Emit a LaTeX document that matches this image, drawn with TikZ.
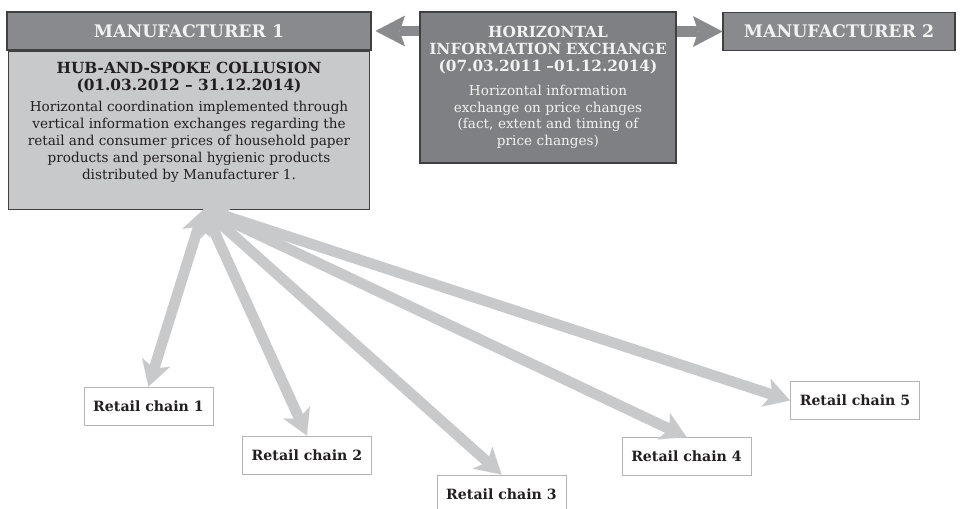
\documentclass[tikz,border=0pt]{standalone}
\usepackage{fontspec}
\setmainfont{DejaVu Serif}
\usetikzlibrary{positioning}
\usetikzlibrary{calc}
\usetikzlibrary{arrows.meta}

\definecolor{hdrgray}{HTML}{898A8D}
\definecolor{infogray}{HTML}{7F8083}
\definecolor{lightbox}{HTML}{C8C9CB}
\definecolor{spokegray}{HTML}{C8C9CB}
\definecolor{edgegray}{HTML}{404042}
\definecolor{retailedge}{HTML}{B4B4B6}
\definecolor{darktext}{HTML}{231F20}
\definecolor{paletext}{HTML}{F2F2F2}

\newcommand{\hd}[1]{{\bfseries\fontsize{11.5}{12.6}\selectfont #1}}
\newcommand{\tx}{\fontsize{10.2}{12.6}\selectfont}

\tikzset{
  hdr/.style={draw=edgegray, fill=hdrgray, line width=0.9pt, text=paletext,
    font=\bfseries\fontsize{13}{15}\selectfont, minimum height=28.5pt, inner sep=0pt},
  m1body/.style={draw=edgegray, fill=lightbox, line width=0.9pt, text=darktext,
    inner sep=3.25pt},
  infobox/.style={draw=edgegray, fill=infogray, line width=0.9pt, text=paletext,
    font=\tx, text width=186pt, align=center, minimum width=192pt,
    minimum height=113.25pt, inner sep=3pt},
  retail/.style={draw=retailedge, fill=white, line width=0.7pt, text=darktext,
    font=\bfseries\fontsize{10.6}{12}\selectfont, minimum width=96.75pt,
    minimum height=28.5pt, inner sep=0pt},
  spoke/.style={draw=spokegray, line width=8pt,
    {Stealth[length=19pt,width=22pt,inset=5pt,line width=0.01pt]}-{Stealth[length=19pt,width=22pt,inset=5pt,line width=0.01pt]}},
  hx/.style={draw=hdrgray, line width=8pt,
    -{Stealth[length=22pt,width=23pt,inset=4pt,line width=0.01pt]}}
}

\begin{document}
\begin{tikzpicture}[x=0.75pt,y=-0.75pt]
\useasboundingbox (0,0) rectangle (962,509);

% manufacturers
\node[hdr, minimum width=273pt] (m1) at (189,31) {MANUFACTURER 1};
\node[m1body, below=0pt of m1] (m1b) {\parbox[t][112pt][t]{264pt}{\centering\tx
  \vspace*{5pt}
  \hd{HUB-AND-SPOKE COLLUSION}\\
  \hd{(01.03.2012 – 31.12.2014)}\\[3.5pt]
  Horizontal coordination implemented through\\
  vertical information exchanges regarding the\\
  retail and consumer prices of household paper\\
  products and personal hygienic products\\
  distributed by Manufacturer 1.}};
\node[hdr, minimum width=174pt] (m2) at (839,31.5) {MANUFACTURER 2};

\node[infobox] (info) at (548,87.5) {\hd{HORIZONTAL}\\
  \hd{INFORMATION EXCHANGE}\\
  \hd{(07.03.2011 –01.12.2014)}\\[5.5pt]
  Horizontal information\\
  exchange on price changes\\
  (fact, extent and timing of\\
  price changes)\\[-3pt]};

\draw[hx] (info.west |- m1.east) -- ([xshift=3pt]m1.east);
\draw[hx] (info.east |- m2.west) -- (m2.west);

% retail chains
\foreach \i/\p in {1/{(148.5,406)},2/{(307,455)},3/{(501.5,494)},
                   4/{(686.5,456.5)},5/{(855,400.5)}}
  \node[retail] (rc\i) at \p {Retail chain \i};

\coordinate (hub) at (204,209);
\foreach \i/\a in {1/north,2/north,3/north,4/north,5/west}
  \draw[spoke] (hub) -- (rc\i.\a);

\end{tikzpicture}
\end{document}
